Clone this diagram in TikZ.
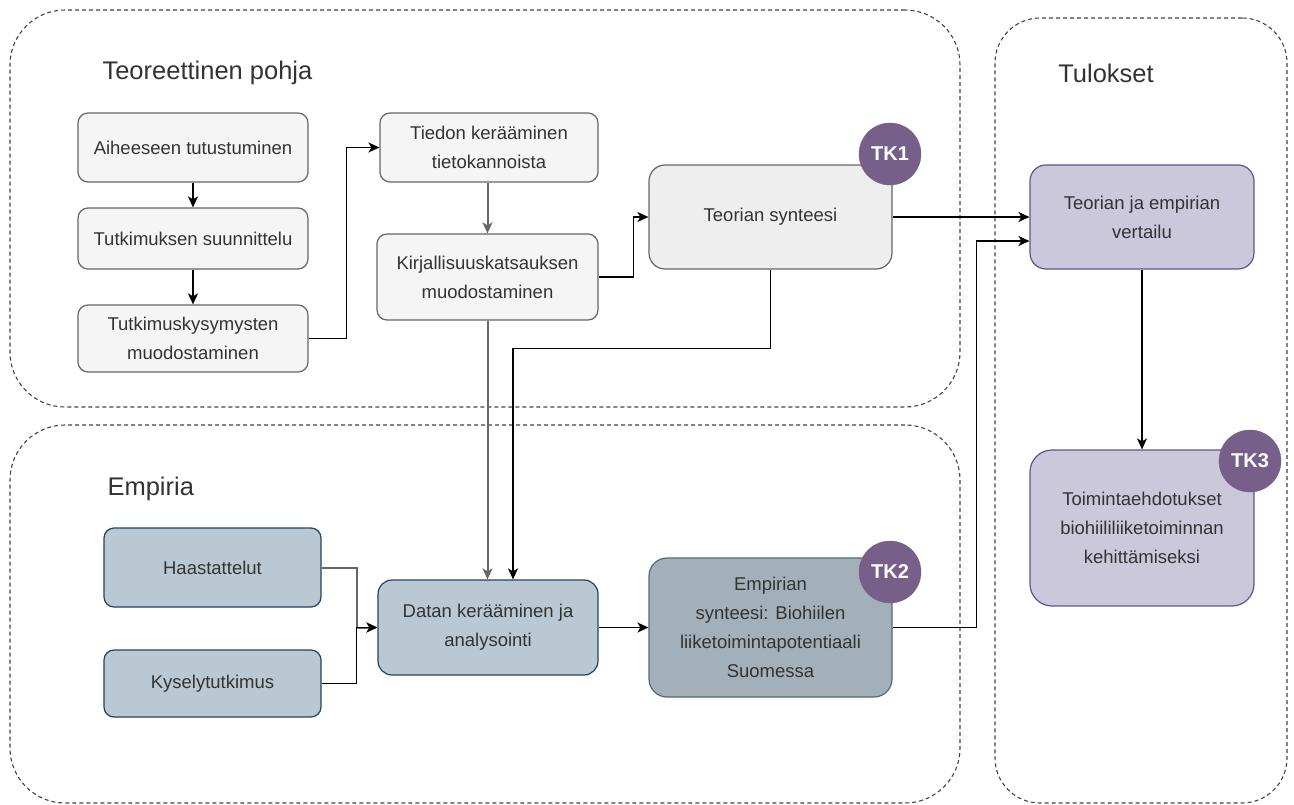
\documentclass[tikz,border=0pt]{standalone}
\usepackage{fontspec}
\setmainfont{Liberation Sans}
\usetikzlibrary{arrows.meta}

\definecolor{txt}{HTML}{333333}
\definecolor{lightfill}{HTML}{F5F5F5}
\definecolor{lightline}{HTML}{666666}
\definecolor{synfill}{HTML}{EEEEEE}
\definecolor{blufill}{HTML}{BAC8D3}
\definecolor{bluline}{HTML}{23445D}
\definecolor{darkfill}{HTML}{A3B0BA}
\definecolor{lavfill}{HTML}{CAC8DA}
\definecolor{lavline}{HTML}{5E5687}
\definecolor{badge}{HTML}{76608A}
\definecolor{dashline}{HTML}{444444}

\tikzset{
  boxbase/.style={draw, line width=1.2pt, rounded corners=10pt, align=center,
    text=txt, font=\fontsize{18.5}{29}\selectfont, inner sep=4pt},
  greybox/.style={boxbase, fill=lightfill, draw=lightline},
  synbox/.style={boxbase, fill=synfill, draw=lightline, rounded corners=16pt},
  bluebox/.style={boxbase, fill=blufill, draw=bluline},
  darkbox/.style={boxbase, fill=darkfill, draw=bluline!80, rounded corners=18pt},
  lavbox/.style={boxbase, fill=lavfill, draw=lavline, rounded corners=16pt},
  tkbadge/.style={circle, fill=badge, draw=badge, minimum size=62pt, inner sep=0pt,
    text=white, font=\fontsize{20}{22}\selectfont\bfseries},
  container/.style={draw=dashline, line width=1.1pt, dash pattern=on 4pt off 3pt,
    rounded corners=55pt},
  grouptitle/.style={text=txt, font=\fontsize{25.5}{30}\selectfont},
  arr/.style={line width=1.5pt, draw=black,
    -{Stealth[length=11pt,width=10pt,inset=3pt]}},
  grayarr/.style={arr, line width=2pt, draw=lightline},
}

\begin{document}
\begin{tikzpicture}[x=1pt,y=-1pt]
\useasboundingbox (0,0) rectangle (1294,805);

% dashed group frames
\node[container, minimum width=950pt, minimum height=397pt] (gteo) at (485,208.5) {};
\node[container, minimum width=950pt, minimum height=378pt] (gemp) at (485,614) {};
\node[container, rounded corners=45pt, minimum width=292pt, minimum height=785pt] (gtul) at (1141,410.5) {};

\node[grouptitle, anchor=west] (tteo) at (99,73) {Teoreettinen pohja};
\node[grouptitle, anchor=west] (temp) at (104,489) {Empiria};
\node[grouptitle] (ttul) at (1106,73) {Tulokset};

% theory column
\node[greybox, minimum width=230pt, minimum height=69pt] (aih) at (193,147.5) {Aiheeseen tutustuminen};
\node[greybox, minimum width=230pt, minimum height=61pt] (suu) at (193,238.5) {Tutkimuksen suunnittelu};
\node[greybox, minimum width=230pt, minimum height=67pt] (kys) at (193,338.5) {Tutkimuskysymysten\\muodostaminen};
\node[greybox, minimum width=218pt, minimum height=69pt] (tie) at (489,147.5) {Tiedon kerääminen\\tietokannoista};
\node[greybox, minimum width=221pt, minimum height=86pt] (kir) at (487.5,277) {Kirjallisuuskatsauksen\\muodostaminen};
\node[synbox, minimum width=243pt, minimum height=104pt] (syn) at (770.5,217) {Teorian synteesi};

% empirical column
\node[bluebox, minimum width=217pt, minimum height=79pt] (haa) at (212.5,567.5) {Haastattelut};
\node[bluebox, minimum width=217pt, minimum height=67pt] (kyt) at (212.5,683.5) {Kyselytutkimus};
\node[bluebox, rounded corners=14pt, minimum width=220pt, minimum height=95pt] (dat) at (488,627.5) {Datan kerääminen ja\\analysointi};
\node[darkbox, minimum width=243pt, minimum height=139pt] (emp) at (770.5,627.5) {Empirian\\synteesi: Biohiilen\\liiketoimintapotentiaali\\Suomessa};

% results column
\node[lavbox, minimum width=224pt, minimum height=104pt] (ver) at (1142,217) {Teorian ja empirian\\vertailu};
\node[lavbox, rounded corners=22pt, minimum width=224pt, minimum height=156pt] (toi) at (1142,528) {Toimintaehdotukset\\biohiililiiketoiminnan\\kehittämiseksi};

% research question badges
\node[tkbadge] (tk1) at (890,154) {TK1};
\node[tkbadge] (tk2) at (890,572) {TK2};
\node[tkbadge] (tk3) at (1250,461) {TK3};

% flow
\draw[arr] (aih.south) -- (suu.north);
\draw[arr, line width=2.2pt] (suu.south) -- (kys.north);
\draw[arr] (kys.east) -- ++(38,0) |- (tie.west);
\draw[grayarr] (tie.south -| kir.north) -- (kir.north);
\draw[arr] (kir.east) -- ++(35,0) |- (syn.west);
\draw[grayarr] (kir.south) -- (kir.south |- dat.north);
\draw[arr] (syn.south) -- ++(0,79) -| ([xshift=25pt]dat.north);
\draw[arr] (syn.east) -- (ver.west);
\draw[arr] (emp.east) -- ++(84,0) |- ([yshift=-24pt]ver.west);
\draw[arr] (ver.south) -- (toi.north);
\draw[grayarr] (haa.east) -- ++(35,0) |- (dat.west);
\draw[arr] (kyt.east) -- ++(35,0) |- (dat.west);
\draw[arr] (dat.east) -- (emp.west);
\end{tikzpicture}
\end{document}
